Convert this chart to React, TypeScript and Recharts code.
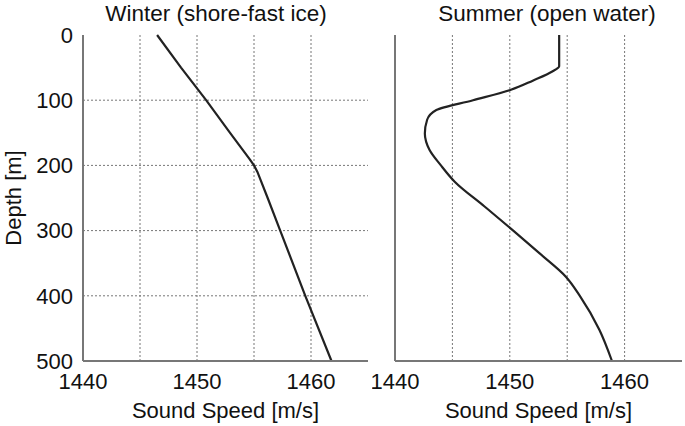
import React from "react";
import {
  LineChart,
  Line,
  XAxis,
  YAxis,
  CartesianGrid,
  Label,
} from "recharts";

// depth [m] and sound speed [m/s], read from the two profiles
const winterDepth = [0, 50, 100, 150, 190, 200, 210, 250, 300, 400, 500];
const winterSpeed = [1446.5, 1448.6, 1450.8, 1452.9, 1454.6, 1455.0, 1455.3, 1456.2, 1457.3, 1459.5, 1461.8];

const summerDepth = [0, 48, 56, 70, 84, 100, 115, 130, 151, 176, 200, 225, 263, 300, 335, 371, 400, 452, 500];
const summerSpeed = [
  1454.3, 1454.3, 1453.7, 1452.0, 1450.1, 1446.8, 1443.6, 1442.8, 1442.6, 1443.0,
  1444.0, 1445.2, 1447.8, 1450.3, 1452.6, 1454.9, 1456.1, 1457.8, 1458.9,
];

const speedTicks = [1440, 1445, 1450, 1455, 1460];
const depthTicks = [0, 100, 200, 300, 400, 500];

const winter = winterDepth.map((d, i) => ({ depth: d, speed: winterSpeed[i] }));
const summer = summerDepth.map((d, i) => ({ depth: d, speed: summerSpeed[i] }));

const font = "'Liberation Sans', Arial, Helvetica, sans-serif";
const tickStyle = { fontSize: 22, fill: "#111", fontFamily: font };

function Profile({
  data,
  width,
  yWidth,
  showDepth,
  curve,
}: {
  data: { depth: number; speed: number }[];
  width: number;
  yWidth: number;
  showDepth: boolean;
  curve: "linear" | "monotone";
}) {
  return (
    <LineChart
      width={width}
      height={426}
      data={data}
      layout="vertical"
      margin={{ top: 35, right: width === 372 ? 4 : 3, bottom: 0, left: 0 }}
    >
      <CartesianGrid
        stroke="#777"
        strokeDasharray="2 2"
        horizontalValues={[100, 200, 300, 400]}
        verticalValues={[1445, 1450, 1455, 1460]}
      />
      <XAxis
        type="number"
        dataKey="speed"
        domain={[1440, 1465]}
        ticks={speedTicks}
        tickFormatter={(v: number) => (v % 10 === 0 ? String(v) : "")}
        allowDataOverflow
        height={65}
        tickLine={false}
        tickSize={0}
        tickMargin={12}
        tick={tickStyle}
        axisLine={{ stroke: "#777", strokeWidth: 2 }}
      >
        <Label
          value="Sound Speed [m/s]"
          position="insideBottom"
          offset={8}
          style={{ fontSize: 22, fill: "#111", fontFamily: font }}
        />
      </XAxis>
      <YAxis
        type="number"
        dataKey="depth"
        domain={[0, 500]}
        ticks={depthTicks}
        width={yWidth}
        tickLine={false}
        tickSize={0}
        tickMargin={10}
        tick={showDepth ? tickStyle : false}
        axisLine={{ stroke: "#777", strokeWidth: 2 }}
      >
        {showDepth && (
          <Label
            value="Depth [m]"
            angle={-90}
            position="insideLeft"
            offset={13}
            style={{ fontSize: 22, fill: "#111", fontFamily: font, textAnchor: "middle" }}
          />
        )}
      </YAxis>
      <Line
        type={curve}
        dataKey="speed"
        stroke="#222"
        strokeWidth={2.2}
        dot={false}
        isAnimationActive={false}
      />
    </LineChart>
  );
}

const titleStyle: React.CSSProperties = {
  position: "absolute",
  top: 3,
  width: 300,
  textAlign: "center",
  fontSize: 22.5,
  lineHeight: "22px",
  fontFamily: font,
  color: "#111",
};

export default function App() {
  return (
    <div
      style={{
        position: "absolute",
        left: 0,
        top: 0,
        width: 685,
        height: 426,
        background: "#fff",
        overflow: "hidden",
      }}
    >
      <div style={{ position: "absolute", left: 0, top: 0 }}>
        <Profile data={winter} width={372} yWidth={83} showDepth curve="linear" />
      </div>
      <div style={{ position: "absolute", left: 372, top: 0 }}>
        <Profile data={summer} width={313} yWidth={23} showDepth={false} curve="monotone" />
      </div>
      <div style={{ ...titleStyle, left: 66 }}>Winter (shore-fast ice)</div>
      <div style={{ ...titleStyle, left: 397 }}>Summer (open water)</div>
    </div>
  );
}
